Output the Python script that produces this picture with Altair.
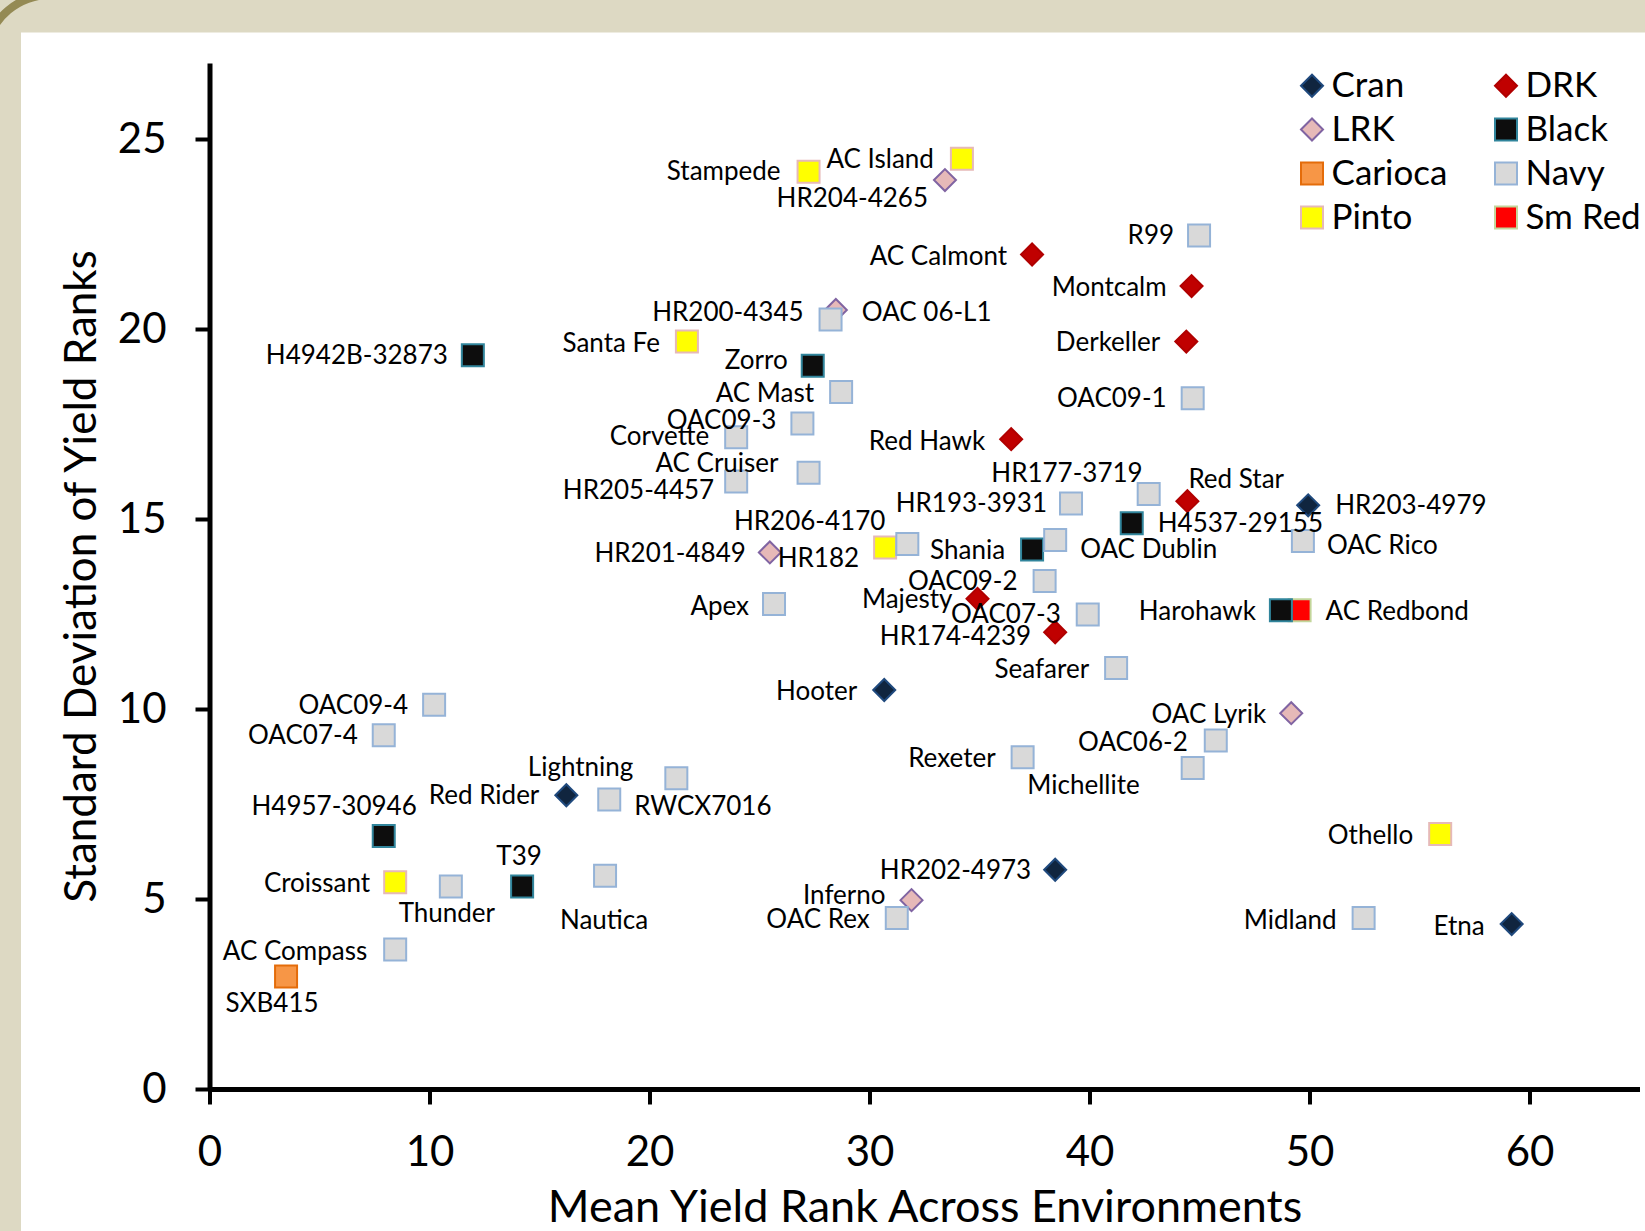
import altair as alt
import pandas as pd

# ---------------- data ----------------
names = [
    "HR203-4979", "Red Rider", "Hooter", "HR202-4973", "Etna",
    "AC Calmont", "Montcalm", "Derkeller", "Red Hawk", "Red Star", "Majesty", "HR174-4239",
    "HR204-4265", "OAC 06-L1", "HR201-4849", "Inferno", "OAC Lyrik",
    "H4942B-32873", "Zorro", "H4537-29155", "Shania", "Harohawk", "H4957-30946", "T39",
    "SXB415",
    "Stampede", "AC Island", "Santa Fe", "HR182", "Croissant", "Othello",
    "AC Redbond",
    "R99", "HR200-4345", "AC Mast", "OAC09-3", "Corvette", "AC Cruiser", "HR205-4457",
    "OAC09-1", "HR177-3719", "HR193-3931", "HR206-4170", "OAC Dublin", "OAC09-2",
    "OAC07-3", "Apex", "OAC Rico", "Seafarer", "Rexeter", "OAC06-2", "Michellite",
    "OAC09-4", "OAC07-4", "Lightning", "RWCX7016", "Thunder", "Nautica", "OAC Rex",
    "AC Compass", "Midland",
]
classes = (
    ["Cran"] * 5 + ["DRK"] * 7 + ["LRK"] * 5 + ["Black"] * 7 + ["Carioca"] * 1
    + ["Pinto"] * 6 + ["Sm Red"] * 1 + ["Navy"] * 29
)
mean_rank = [
    49.94, 16.22, 30.67, 38.44, 59.19,
    37.39, 44.64, 44.40, 36.44, 44.45, 34.91, 38.44,
    33.43, 28.47, 25.47, 31.91, 49.17,
    11.97, 27.42, 41.92, 37.39, 48.70, 7.92, 14.21,
    3.48,
    27.23, 34.20, 21.70, 30.71, 8.44, 55.94,
    49.55,
    44.98, 28.23, 28.71, 26.95, 23.94, 27.23, 23.94,
    44.69, 42.69, 39.16, 31.72, 38.44, 37.96,
    39.92, 25.66, 49.70, 41.21, 36.96, 45.74, 44.69,
    10.21, 7.92, 21.22, 18.17, 10.97, 17.98, 31.24,
    8.44, 52.46,
]
sd_rank = [
    15.36, 7.73, 10.50, 5.77, 4.34,
    21.96, 21.13, 19.67, 17.10, 15.47, 12.90, 12.02,
    23.92, 20.50, 14.12, 4.97, 9.89,
    19.31, 19.03, 14.89, 14.20, 12.60, 6.66, 5.33,
    2.96,
    24.14, 24.48, 19.67, 14.25, 5.44, 6.71,
    12.60,
    22.46, 20.25, 18.34, 17.51, 17.15, 16.22, 15.99,
    18.18, 15.66, 15.41, 14.34, 14.45, 13.37,
    12.49, 12.76, 14.42, 11.08, 8.73, 9.17, 8.45,
    10.11, 9.31, 8.18, 7.62, 5.33, 5.61, 4.50,
    3.67, 4.50,
]

# legend order (filled column by column) and styling per class
class_order = ["Cran", "LRK", "Carioca", "Pinto", "DRK", "Black", "Navy", "Sm Red"]
class_fill = ["#10253F", "#E6B9B8", "#F79646", "#FFFF00", "#C00000", "#0D0D0D", "#D9D9D9", "#FF0000"]
class_stroke = ["#1F497D", "#8064A2", "#E46C0A", "#E6B9B8", "#B00000", "#31859C", "#95B3D7", "#C3D69B"]
class_shape = ["diamond", "diamond", "square", "square", "diamond", "square", "square", "square"]
draw_order = ["Cran", "DRK", "LRK", "Carioca", "Pinto", "Sm Red", "Black", "Navy"]

# label placement (side, pixel offset x, pixel offset y) – layout only
label_place = {
    "Stampede": ("L", -28, 0), "AC Island": ("L", -28, 1), "HR204-4265": ("L", -17, 19),
    "R99": ("L", -25, 0), "AC Calmont": ("L", -25, 2), "Montcalm": ("L", -25, 2),
    "HR200-4345": ("L", -27, -7), "OAC 06-L1": ("R", 26, 3), "Derkeller": ("L", -26, 1),
    "H4942B-32873": ("L", -25, 1), "Santa Fe": ("L", -27, 2), "Zorro": ("L", -25, -5),
    "AC Mast": ("L", -27, 2), "OAC09-1": ("L", -26, 1), "OAC09-3": ("L", -26, -3),
    "Corvette": ("L", -27, 0), "Red Hawk": ("L", -26, 3), "AC Cruiser": ("L", -30, -9),
    "HR177-3719": ("L", -6, -20), "Red Star": ("R", 1, -21), "HR205-4457": ("L", -22, 10),
    "HR193-3931": ("L", -24, 1), "HR203-4979": ("R", 27, 1), "HR206-4170": ("L", -22, -22),
    "H4537-29155": ("R", 26, 1), "Shania": ("L", -27, 2), "OAC Dublin": ("R", 25, 10),
    "OAC Rico": ("R", 24, 5), "HR201-4849": ("L", -24, 2), "HR182": ("L", -26, 11),
    "OAC09-2": ("L", -27, 1), "Apex": ("L", -25, 3), "Majesty": ("L", -25, 1),
    "OAC07-3": ("L", -27, 1), "Harohawk": ("L", -25, 2), "AC Redbond": ("R", 26, 2),
    "HR174-4239": ("L", -24, 5), "Seafarer": ("L", -27, 2), "Hooter": ("L", -27, 2),
    "OAC Lyrik": ("L", -25, 2), "OAC09-4": ("L", -26, 1), "OAC06-2": ("L", -28, 2),
    "OAC07-4": ("L", -26, 1), "Rexeter": ("L", -27, 2), "Lightning": ("L", -43, -10),
    "Michellite": ("L", -53, 18), "Red Rider": ("L", -27, 1), "H4957-30946": ("L", 33, -29),
    "RWCX7016": ("R", 25, 8), "Othello": ("L", -27, 2), "HR202-4973": ("L", -24, 1),
    "Croissant": ("L", -25, 2), "T39": ("C", -3, -29), "Inferno": ("L", -26, -4),
    "Thunder": ("C", -4, 28), "Nautica": ("C", -1, 45), "OAC Rex": ("L", -27, 2),
    "Midland": ("L", -27, 3), "Etna": ("L", -27, 3), "AC Compass": ("L", -28, 2),
    "SXB415": ("C", -14, 27),
}

# ---------------- layout ----------------
W, H = 1430, 1026
X_MAX, Y_MAX = 65, 27
PAD_L, PAD_T, PAD_R, PAD_B = 209.5, 63, 5.5, 142
FONT = "Lato"

df = pd.DataFrame({"name": names, "cls": classes, "x": mean_rank, "y": sd_rank})
df["draw"] = [draw_order.index(c) for c in classes]
df["side"] = [label_place[n][0] for n in names]
df["dx"] = [label_place[n][1] for n in names]
df["dy"] = [label_place[n][2] for n in names]

xscale = alt.Scale(domain=[0, X_MAX], nice=False, zero=False)
yscale = alt.Scale(domain=[0, Y_MAX], nice=False, zero=False)

xaxis = alt.Axis(
    values=[0, 10, 20, 30, 40, 50, 60], grid=False, domainColor="black", domainWidth=5,
    tickColor="black", tickWidth=4, tickSize=15, labelPadding=28, labelFontSize=42,
    labelFont=FONT, labelColor="black", labelFlush=False,
    title="Mean Yield Rank Across Environments", titleFont=FONT, titleFontSize=45,
    titleFontWeight="normal", titleColor="black", titlePadding=12, zindex=1,
)
yaxis = alt.Axis(
    values=[0, 5, 10, 15, 20, 25], grid=False, domainColor="black", domainWidth=5,
    tickColor="black", tickWidth=4, tickSize=14.5, labelPadding=29, labelFontSize=42,
    labelFont=FONT, labelColor="black", labelFlush=False,
    title="Standard Deviation of Yield Ranks", titleFont=FONT, titleFontSize=44,
    titleFontWeight="normal", titleColor="black", titlePadding=13, zindex=1,
)

legend = alt.Legend(
    orient="none", legendX=1085, legendY=5, columns=2, title=None,
    symbolSize=484, symbolStrokeWidth=2, labelFontSize=35, labelFont=FONT,
    labelColor="black", labelOffset=2, rowPadding=8, columnPadding=41, padding=0,
)

# decorative slide frame
frame_df = pd.DataFrame({"k": [0]})
panel = alt.Chart(frame_df).mark_rect(color="white").encode(
    x=alt.value(21 - PAD_L), x2=alt.value(1650 - PAD_L),
    y=alt.value(32.5 - PAD_T), y2=alt.value(1240 - PAD_T),
)
corner = alt.Chart(frame_df).mark_arc(
    color="#948A54", radius=61, radius2=69, theta=4.887, theta2=6.2832
).encode(x=alt.value(50 - PAD_L), y=alt.value(60 - PAD_T))

points = alt.Chart(df).mark_point(filled=True, size=484, strokeWidth=2, opacity=1).encode(
    x=alt.X("x:Q", scale=xscale, axis=xaxis),
    y=alt.Y("y:Q", scale=yscale, axis=yaxis),
    fill=alt.Fill("cls:N", scale=alt.Scale(domain=class_order, range=class_fill), legend=legend),
    stroke=alt.Stroke("cls:N", scale=alt.Scale(domain=class_order, range=class_stroke), legend=legend),
    shape=alt.Shape("cls:N", scale=alt.Scale(domain=class_order, range=class_shape), legend=legend),
    order=alt.Order("draw:Q"),
)


def label_layer(side, align):
    return (
        alt.Chart(df)
        .transform_filter(alt.datum.side == side)
        .transform_calculate(
            lx=f"datum.x + datum.dx * {X_MAX} / {W}",
            ly=f"datum.y - datum.dy * {Y_MAX} / {H}",
        )
        .mark_text(font=FONT, fontSize=26, color="black", align=align, baseline="middle")
        .encode(
            x=alt.X("lx:Q", scale=xscale, axis=xaxis),
            y=alt.Y("ly:Q", scale=yscale, axis=yaxis),
            text="name:N",
        )
    )


chart = (
    alt.layer(
        panel, corner, points,
        label_layer("L", "right"), label_layer("R", "left"), label_layer("C", "center"),
    )
    .properties(
        width=W, height=H,
        autosize=alt.AutoSizeParams(type="none"),
        padding={"left": PAD_L, "top": PAD_T, "right": PAD_R, "bottom": PAD_B},
        background="#DDD9C3",
    )
    .configure_view(stroke=None)
    .configure(font=FONT)
)

chart.save("out.html", embed_options={"renderer": "svg", "actions": False})
